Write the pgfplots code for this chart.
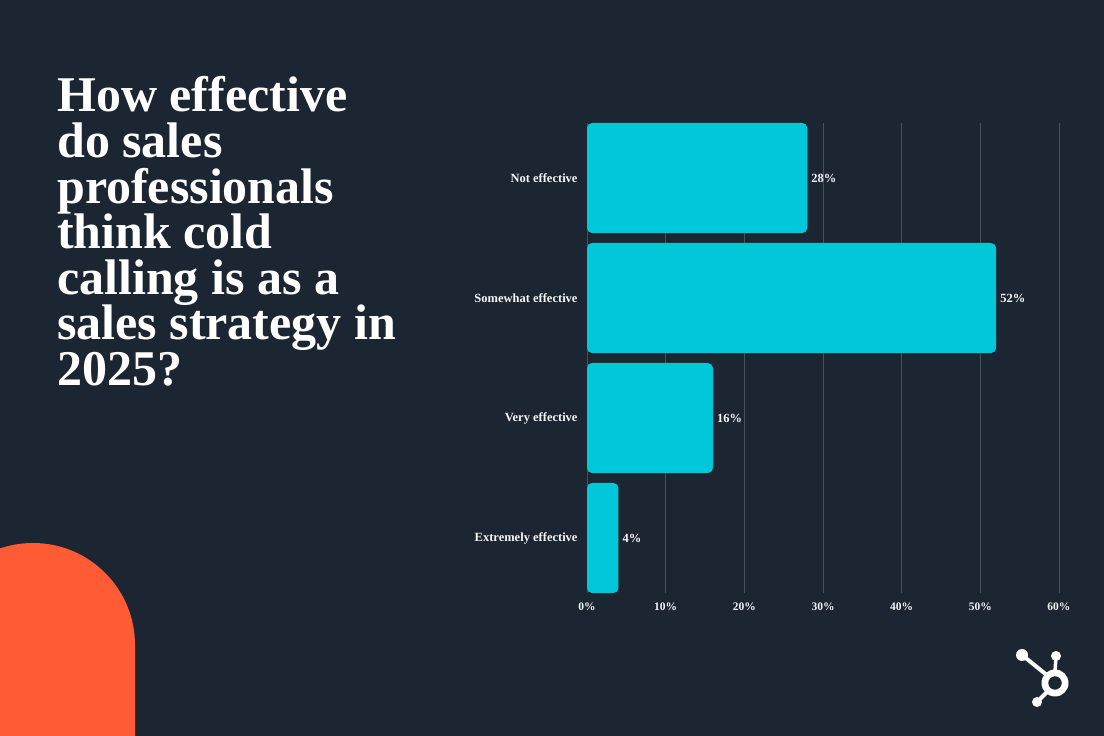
\documentclass[border=0pt]{standalone}
\usepackage{fontspec}
\setmainfont{Liberation Serif}
\usepackage{pgfplots}
\pgfplotsset{compat=1.18}
\usepackage{pgfplotstable}
\definecolor{bg}{HTML}{1C2632}
\definecolor{barc}{HTML}{00C8DA}
\definecolor{orng}{HTML}{FF5C35}
\definecolor{gridc}{HTML}{46515C}
\definecolor{txt}{HTML}{F4F5F6}
\pgfplotstableread{
idx val
3 28
2 52
1 16
0 4
}\datatable
\begin{document}
\begin{tikzpicture}[x=1pt,y=1pt]
\fill[bg] (0,0) rectangle (1104,736);
\begin{scope}
\clip (0,0) rectangle (1104,736);
\fill[orng] (-69,-2) -- (-69,91) arc[start angle=180,end angle=0,radius=102] -- (135,-2) -- cycle;
\end{scope}
\begin{scope}[every node/.style={anchor=base west, inner sep=0pt, text=white, font=\bfseries\fontsize{50}{50}\selectfont}]
\node at (57,624) {How effective};
\node at (57,578.4) {do sales};
\node at (57,532.8) {professionals};
\node at (57,487.2) {think cold};
\node at (57,441.6) {calling is as a};
\node at (57,396) {sales strategy in};
\node at (57,350.4) {2025?};
\end{scope}
% logo
\begin{scope}[white]
\draw[line width=4pt] (1022,81) -- (1048,60);
\draw[line width=4pt] (1037,34) -- (1048,45);
\draw[line width=3.5pt] (1056,80) -- (1055,64);
\fill (1022,81) circle (6);
\fill (1056,80) circle (5);
\fill (1037,34) circle (5);
\fill[even odd rule] (1055,53) circle (13.5) circle (6.8);
\end{scope}
\begin{scope}[shift={(587pt,143pt)}]
\begin{axis}[at={(0pt,0pt)}, anchor=south west, scale only axis,
  width=472pt, height=470pt,
  xmin=0, xmax=60, ymin=-0.4583, ymax=3.4583,
  xbar, bar width=110pt,
  axis line style={draw=none}, tick style={draw=none},
  xmajorgrids, major grid style={gridc, line width=0.8pt},
  xtick={0,10,20,30,40,50,60},
  xticklabel={\pgfmathprintnumber{\tick}\%},
  ytick={0,1,2,3},
  yticklabels={Extremely effective, Very effective, Somewhat effective, Not effective},
  /pgf/number format/assume math mode=true,
  xticklabel style={anchor=north, inner sep=0pt, yshift=-10pt, text=txt, font=\bfseries\fontsize{11.5}{12}\selectfont},
  yticklabel style={anchor=east, inner sep=0pt, xshift=-5pt, text=txt, font=\bfseries\fontsize{12.5}{13}\selectfont},
  point meta=x,
  nodes near coords={\pgfmathprintnumber{\pgfplotspointmeta}\%},
  nodes near coords align={horizontal},
  every node near coord/.append style={anchor=west, inner sep=0pt, xshift=4pt, text=txt, font=\bfseries\fontsize{12.5}{13}\selectfont},
  clip=false,
]
\addplot[fill=barc, draw=none, rounded corners=5pt] table[x=val, y=idx] {\datatable};
\end{axis}
\end{scope}
\end{tikzpicture}
\end{document}
